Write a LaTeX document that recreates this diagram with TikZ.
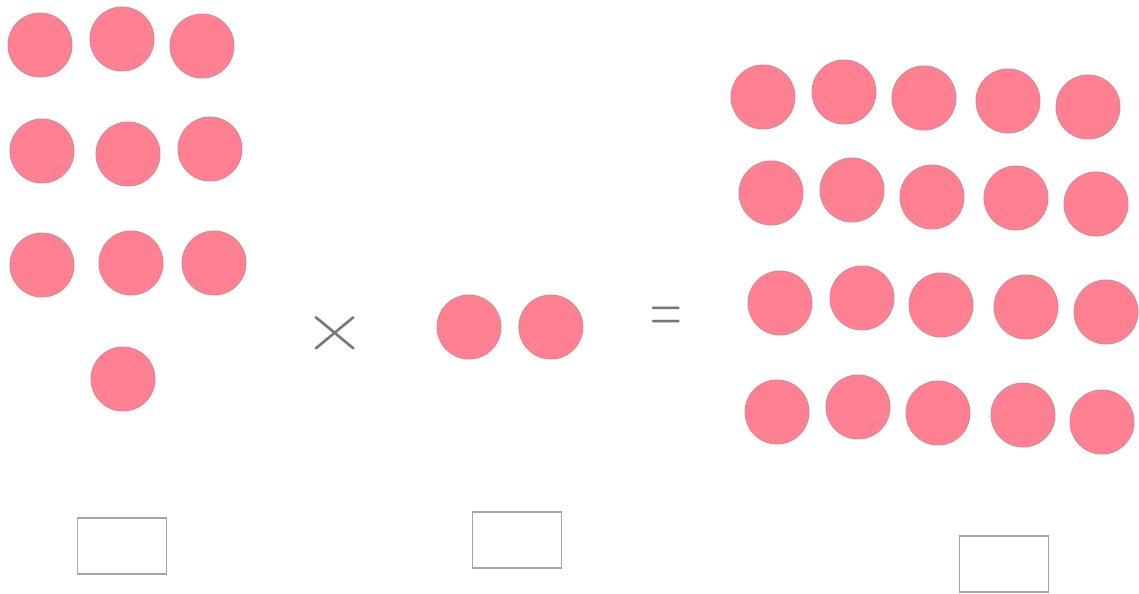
\documentclass[tikz,border=0pt]{standalone}
\usepackage{tikz}
\usetikzlibrary{positioning}
\definecolor{dotpink}{RGB}{255,128,145}
\definecolor{dotrim}{RGB}{212,136,148}
\definecolor{signgray}{RGB}{118,118,118}
\definecolor{boxgray}{RGB}{165,165,165}

\begin{document}
\begin{tikzpicture}[x=0.02cm, y=-0.02cm,
   dot/.style={circle, fill=dotpink, draw=dotrim, line width=0.5pt,
               minimum size=1.28cm, inner sep=0pt},
   ansbox/.style={draw=boxgray, line width=0.7pt,
                  minimum width=1.78cm, minimum height=1.12cm, inner sep=0pt},
   sign/.style={text=signgray, inner sep=0pt}]
  \useasboundingbox[fill=white] (0,0) rectangle (1139,593);
  % first factor: ten dots
  \foreach \i/\x/\y in {1/40/45, 2/122/39, 3/202/46,
                        4/42/151, 5/128/154, 6/210/149,
                        7/42/265, 8/131/263, 9/214/263,
                        10/123/379}
    \node[dot] (a\i) at (\x,\y) {};
  % second factor: two dots
  \node[dot] (b1) at (469,327) {};
  \node[dot, right=0.34cm of b1] (b2) {};
  % product: twenty dots
  \foreach \i/\x/\y in {1/763/97, 2/844/92, 3/924/98, 4/1008/101, 5/1088/107,
                        6/771/193, 7/852/190, 8/932/197, 9/1016/198, 10/1096/204,
                        11/780/303, 12/862/298, 13/941/305, 14/1026/307, 15/1106/312,
                        16/777/412, 17/858/407, 18/938/413, 19/1023/415, 20/1102/422}
    \node[dot] (c\i) at (\x,\y) {};
  % signs
  \node[sign, font=\fontsize{50}{50}\selectfont] (times) at (335,334)
    {\scalebox{1}[0.83]{×}};
  \node[sign, font=\fontsize{23}{23}\selectfont] (equals) at (666,320)
    {\scalebox{1}[1.7]{$=$}};
  % answer boxes
  \node[ansbox] (box1) at (122,546) {};
  \node[ansbox] (box2) at (517,540) {};
  \node[ansbox] (box3) at (1004,564) {};
\end{tikzpicture}
\end{document}
